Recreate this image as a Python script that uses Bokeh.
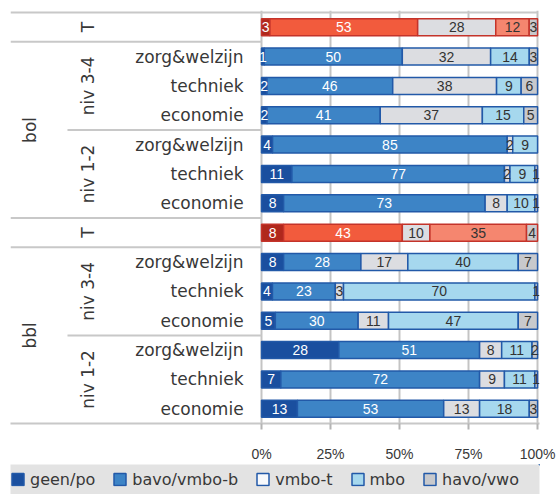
import numpy as np
from bokeh.plotting import figure
from bokeh.layouts import column
from bokeh.models import ColumnDataSource, Range1d, FixedTicker, Legend, LegendItem
from bokeh.core.properties import value
from bokeh.embed import file_html
from bokeh.resources import INLINE

# ---------------- data ----------------
leerweg = ["bol"] * 7 + ["bbl"] * 7
niveau = ["T", "niv 3-4", "niv 3-4", "niv 3-4", "niv 1-2", "niv 1-2", "niv 1-2"] * 2
sector = ["", "zorg&welzijn", "techniek", "economie",
          "zorg&welzijn", "techniek", "economie"] * 2
series = ["geen/po", "bavo/vmbo-b", "vmbo-t", "mbo", "havo/vwo"]
geen_po = [3, 1, 2, 2, 4, 11, 8, 8, 8, 4, 5, 28, 7, 13]
bavo_vmbo_b = [53, 50, 46, 41, 85, 77, 73, 43, 28, 23, 30, 51, 72, 53]
vmbo_t = [28, 32, 38, 37, 2, 2, 8, 10, 17, 3, 11, 8, 9, 13]
mbo = [12, 14, 9, 15, 9, 9, 10, 35, 40, 70, 47, 11, 11, 18]
havo_vwo = [3, 3, 6, 5, 0, 1, 1, 4, 7, 1, 7, 2, 1, 3]
ticks = [0, 25, 50, 75, 100]
tick_labels = ["0%", "25%", "50%", "75%", "100%"]

# ---------------- styles ----------------
blue_fill = ["#1a4f9f", "#3d84c6", "#dcdde1", "#a6d8ee", "#c8c9cc"]
red_fill = ["#b0281c", "#f25b3d", "#dcdde1", "#f5866f", "#c8c9cc"]
legend_fill = ["#1a4f9f", "#3d84c6", "#f7f9fc", "#a6d8ee", "#c8c9cc"]
blue_line = "#2259a8"
red_line = "#c4332a"
seg_text = ["white", "white", "#333333", "#333333", "#333333"]
sep_color = "#c8c8c8"
txt_color = "#383838"

PX_PER_UNIT = 2.76
x_start = -251 / PX_PER_UNIT
x_end = 100.7
lvl1_x = -83.7
lvl2_x = -62.7
lvl2_line_x = -70.3
cat_x = -6.5

n = len(leerweg)
vals = np.array([geen_po, bavo_vmbo_b, vmbo_t, mbo, havo_vwo], dtype=float)
share = vals / vals.sum(axis=0) * 100
right = np.cumsum(share, axis=0)
left = right - share

ys, lefts, rights, fills, lines, labels, mids, tcols = [], [], [], [], [], [], [], []
for i in range(n):
    is_t = niveau[i] == "T"
    for k in range(len(series)):
        if vals[k, i] <= 0:
            continue
        ys.append(i + 0.5)
        lefts.append(left[k, i])
        rights.append(right[k, i])
        fills.append((red_fill if is_t else blue_fill)[k])
        lines.append(red_line if is_t else blue_line)
        labels.append(str(int(vals[k, i])))
        mids.append((left[k, i] + right[k, i]) / 2)
        tcols.append(seg_text[k])

src = ColumnDataSource(dict(y=ys, left=lefts, right=rights, fill=fills, line=lines,
                            label=labels, mid=mids, tcol=tcols))

p = figure(width=559, height=464, x_range=Range1d(x_start, x_end),
           y_range=Range1d(14, -0.068), output_backend="svg", toolbar_location=None,
           y_axis_type=None, min_border_left=10, min_border_right=20,
           min_border_top=10, min_border_bottom=38)
p.outline_line_color = None
p.background_fill_color = "white"
p.ygrid.visible = False
p.xgrid.ticker = FixedTicker(ticks=ticks)
p.xgrid.grid_line_color = "#c4c4c4"
p.xgrid.grid_line_width = 2

ax = p.xaxis[0]
ax.ticker = FixedTicker(ticks=ticks)
ax.major_label_overrides = {t: l for t, l in zip(ticks, tick_labels)}
ax.axis_line_color = sep_color
ax.axis_line_width = 2
ax.major_tick_line_color = "#b4b4b4"
ax.major_tick_line_width = 2
ax.major_tick_in = 0
ax.major_tick_out = 6
ax.minor_tick_line_color = None
ax.major_label_standoff = 16
ax.major_label_text_font = "Liberation Sans"
ax.major_label_text_font_size = "14px"
ax.major_label_text_color = txt_color

# bars
p.hbar(y="y", left="left", right="right", height=0.58, fill_color="fill",
       line_color="line", line_width=1.5, source=src)
p.text(x="mid", y="y", text="label", text_align="center", text_baseline="middle",
       text_color="tcol", text_font=value("Liberation Sans"), text_font_size="14px",
       source=src)

# category labels
cat_idx = [i for i in range(n) if sector[i]]
p.text(x=[cat_x] * len(cat_idx), y=[i + 0.5 for i in cat_idx],
       text=[sector[i] for i in cat_idx], text_align="right", text_baseline="middle",
       text_color=txt_color, text_font=value("DejaVu Sans"), text_font_size="17px")

# group labels
def runs(keys):
    out = []
    start = 0
    for i in range(1, n + 1):
        if i == n or keys[i] != keys[start]:
            out.append((keys[start], start, i))
            start = i
    return out

top_keys = [leerweg[i] + ("|T" if niveau[i] == "T" else "") for i in range(n)]
mid_keys = [leerweg[i] + "|" + niveau[i] for i in range(n)]
top_runs = runs(top_keys)
mid_runs = runs(mid_keys)

l1x, l1y, l1t = [], [], []
for key, a, b in top_runs:
    if not key.endswith("|T"):
        l1x.append(lvl1_x); l1y.append((a + b) / 2); l1t.append(key)
p.text(x=l1x, y=l1y, text=l1t, angle=np.pi / 2, text_align="center",
       text_baseline="middle", text_color=txt_color, text_font=value("DejaVu Sans"),
       text_font_size="17px")

l2x, l2y, l2t = [], [], []
for key, a, b in mid_runs:
    l2x.append(lvl2_x); l2y.append((a + b) / 2); l2t.append(key.split("|")[1])
p.text(x=l2x, y=l2y, text=l2t, angle=np.pi / 2, text_align="center",
       text_baseline="middle", text_color=txt_color, text_font=value("DejaVu Sans"),
       text_font_size="17px")

# separator lines
top_bounds = set(b for _, _, b in top_runs[:-1])
mid_bounds = set(b for _, _, b in mid_runs[:-1]) - top_bounds
sx0, sx1, sy = [x_start], [100], [0]
for b in sorted(top_bounds):
    sx0.append(x_start); sx1.append(0); sy.append(b)
for b in sorted(mid_bounds):
    sx0.append(lvl2_line_x); sx1.append(0); sy.append(b)
p.segment(x0=sx0, x1=sx1, y0=sy, y1=sy, line_color=sep_color, line_width=2)

# legend (separate strip below the chart)
lf = figure(width=559, height=30, x_range=Range1d(0, 1), y_range=Range1d(0, 1),
            output_backend="svg", toolbar_location=None, x_axis_type=None,
            y_axis_type=None, min_border_left=10, min_border_right=0,
            min_border_top=0, min_border_bottom=0)
lf.outline_line_color = None
lf.background_fill_color = "#e3e3e3"
lf.border_fill_color = "white"
lf.xgrid.visible = False
lf.ygrid.visible = False
items = []
for k, s in enumerate(series):
    r = lf.hbar(y=[5], left=[5], right=[6], height=0.5, fill_color=legend_fill[k],
                line_color=blue_line, line_width=1.5)
    items.append(LegendItem(label=s, renderers=[r]))
legend = Legend(items=items, orientation="horizontal", location="left",
                label_text_font="DejaVu Sans", label_text_font_size="16px",
                label_text_color=txt_color, glyph_width=15, glyph_height=15,
                label_standoff=5, spacing=17, padding=2, margin=0,
                background_fill_alpha=0, border_line_color=None)
lf.add_layout(legend, "center")

open("out.html", "w").write(file_html(column(p, lf, spacing=0), INLINE))
